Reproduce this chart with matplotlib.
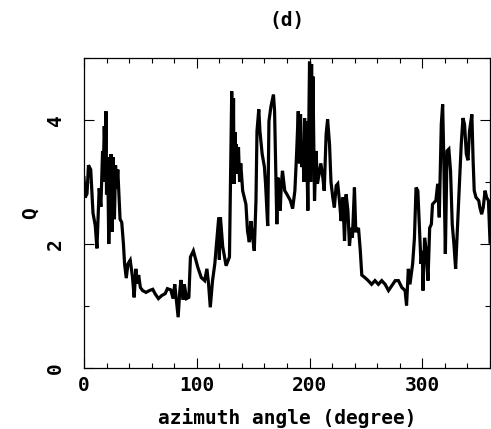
import matplotlib
matplotlib.use("Agg")
import matplotlib.pyplot as plt
from matplotlib.ticker import MultipleLocator
from matplotlib.font_manager import FontProperties

title = "(d)"
xlabel = "azimuth angle (degree)"
ylabel = "Q"

azimuth = [0, 1, 2.7, 4, 6, 8, 10, 11.5, 13.5, 15, 16.5, 17, 18, 19, 19.5, 20, 21, 22,
           23, 24, 25, 26, 27, 28, 29, 30, 31, 32, 33.5, 35, 36, 37.5, 39, 41, 43, 44.5,
           46, 47, 48.5, 50, 52, 55, 58, 61, 63, 66, 69, 72, 74, 77, 79, 80.5, 83.5,
           85, 86, 88, 89, 90.9, 93, 94.4, 97, 101, 104, 107, 109, 110.5, 112, 114,
           116, 117, 119.5, 120, 121, 123, 126, 129, 130, 131, 132, 132.6, 133, 134,
           134.5, 135, 136, 137, 138, 139, 140.7, 143.6, 145, 146.6, 148, 149.6, 151,
           152.5, 153.4, 155, 156, 158, 160, 161, 162.9, 164, 165.8, 168, 169, 171,
           172, 174, 175, 176, 178, 180, 183, 185, 187, 188.5, 190, 191, 192, 193, 194,
           195, 195.6, 196, 197, 198.5, 199, 200, 201, 201.8, 202.5, 203, 204.4, 205.8,
           207, 208.9, 210, 211.8, 213, 214.7, 216, 217.7, 219, 220.6, 222, 223.6, 225,
           226.5, 228, 229.5, 231, 232.4, 234, 235.4, 236.8, 238, 239.8, 241, 242,
           243.4, 245, 246.3, 249, 252, 255, 258, 261, 264, 267, 270, 273, 276, 278.8,
           281.8, 284.7, 286, 287.6, 289, 291.4, 293, 294.4, 296, 297.4, 298.8, 300,
           300.6, 302, 303.5, 305, 306.5, 308, 309, 312, 313.6, 315, 316.8, 318, 319,
           320.4, 321.9, 323.5, 325, 326.5, 328, 329.5, 331.5, 333, 334.5, 336, 337.4,
           339, 340.5, 341.8, 343.9, 345, 346, 347.6, 350, 351, 352.6, 354, 355.6, 357,
           358.6, 360]
q_value = [3.07, 2.75, 2.81, 3.27, 3.2, 2.5, 2.3, 1.93, 2.9, 2.6, 3.5, 3.0, 3.9, 3.3,
           4.14, 2.8, 3.4, 2.0, 3.0, 3.45, 2.2, 3.4, 2.4, 3.27, 2.9, 3.2, 2.8, 2.4, 2.35,
           2.0, 1.68, 1.45, 1.68, 1.74, 1.47, 1.14, 1.6, 1.36, 1.5, 1.3, 1.25, 1.22,
           1.25, 1.27, 1.2, 1.12, 1.17, 1.2, 1.28, 1.26, 1.12, 1.35, 0.82, 1.25, 1.42,
           1.1, 1.35, 1.12, 1.14, 1.79, 1.89, 1.62, 1.46, 1.41, 1.6, 1.35, 0.98, 1.41,
           1.68, 1.89, 2.43, 1.75, 2.43, 1.96, 1.65, 1.79, 3.18, 4.46, 3.2, 4.35, 2.97,
           3.8, 3.3, 3.61, 3.13, 3.56, 3.0, 3.3, 2.86, 2.64, 2.21, 2.03, 2.37, 2.1, 1.89,
           2.7, 3.82, 4.17, 3.82, 3.45, 3.24, 2.97, 2.29, 3.98, 4.22, 4.41, 4.14, 2.32,
           3.07, 2.54, 2.97, 3.18, 2.86, 2.8, 2.7, 2.57, 2.86, 3.45, 4.14, 3.3, 4.09,
           3.24, 3.61, 3.0, 4.03, 3.2, 3.98, 2.54, 3.4, 4.94, 3.0, 4.9, 3.2, 4.7, 2.7,
           3.5, 2.97, 3.18, 3.3, 3.07, 2.86, 3.77, 4.01, 3.61, 3.0, 2.75, 2.59, 2.94,
           2.97, 2.7, 2.37, 2.75, 2.05, 2.8, 2.54, 1.97, 2.26, 2.1, 2.91, 2.21, 2.21,
           2.26, 1.89, 1.5, 1.46, 1.41, 1.35, 1.41, 1.35, 1.41, 1.35, 1.25, 1.33, 1.41,
           1.41, 1.3, 1.25, 1.01, 1.6, 1.35, 1.68, 2.1, 2.91, 2.86, 2.26, 1.68, 1.89,
           1.25, 2.1, 1.89, 1.41, 2.26, 2.32, 2.64, 2.7, 2.97, 2.43, 3.93, 4.25, 3.4,
           1.84, 3.5, 3.53, 3.18, 2.32, 2.0, 1.6, 2.43, 3.02, 3.61, 4.03, 3.93, 3.45,
           3.35, 3.82, 4.09, 3.35, 2.86, 2.75, 2.7, 2.59, 2.48, 2.59, 2.86, 2.75, 2.7,
           2.03]

fig = plt.figure(figsize=(4.91, 4.29), dpi=100)
ax = fig.add_axes([0.171, 0.142, 0.827, 0.723])

ax.plot(azimuth, q_value, color="black", linewidth=2.3, solid_joinstyle="miter")

ax.set_xlim(0, 360)
ax.set_ylim(0, 5)
ax.xaxis.set_major_locator(MultipleLocator(100))
ax.xaxis.set_minor_locator(MultipleLocator(20))
ax.yaxis.set_major_locator(MultipleLocator(2))
ax.yaxis.set_minor_locator(MultipleLocator(1))

ax.tick_params(which="both", direction="in", top=True, right=True, width=0.8,
               colors="black")
ax.tick_params(which="major", length=7)
ax.tick_params(which="minor", length=3.5)
ax.tick_params(axis="x", which="major", pad=6)
ax.tick_params(axis="y", which="major", pad=14)

font = dict(family="DejaVu Sans Mono", weight="bold", size=14)
for lab in ax.get_xticklabels():
    lab.set_fontproperties(FontProperties(**font))
for lab in ax.get_yticklabels():
    lab.set_fontproperties(FontProperties(**font))
    lab.set_rotation(90)
    lab.set_va("center")

for s in ax.spines.values():
    s.set_linewidth(0.9)

ax.set_xlabel(xlabel, fontdict=font, labelpad=9)
ax.set_ylabel(ylabel, fontdict=font, labelpad=4)
fig.text(0.585, 0.953, title, ha="center", va="center", **font)

fig.savefig("out.png", dpi=100)
